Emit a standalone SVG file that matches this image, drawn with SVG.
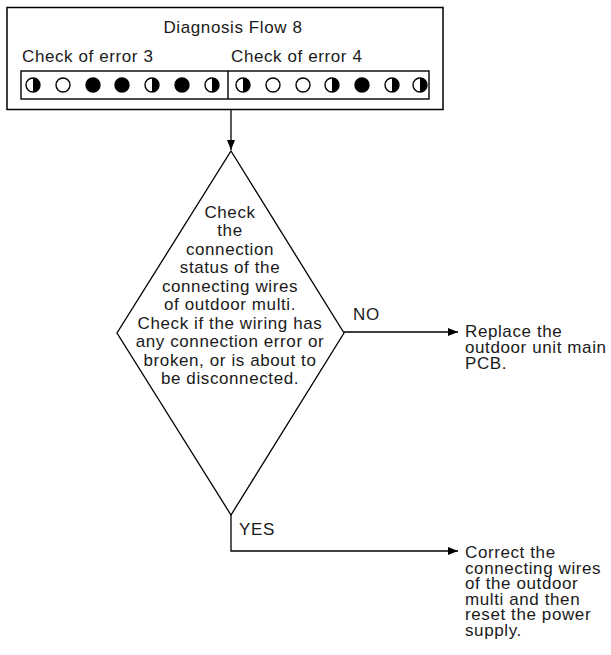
<svg xmlns="http://www.w3.org/2000/svg" width="611" height="655" viewBox="0 0 611 655">
<style>
text{font-family:"Liberation Sans",Arial,sans-serif;font-size:17px;letter-spacing:0.6px;fill:#1a1a1a}
.c{text-anchor:middle}
.ln{fill:none;stroke:#000;stroke-width:1.3}
.led{stroke:#000;stroke-width:1.4}
</style>
<defs>
<marker id="ah" viewBox="0 0 10 8" refX="10" refY="4" markerWidth="10" markerHeight="8" markerUnits="userSpaceOnUse" orient="auto">
<path d="M0,0 L10,4 L0,8 Z" fill="#000"/>
</marker>
<g id="half"><circle r="7" fill="#fff" class="led"/><path d="M0,-7 A7,7 0 0 1 0,7 Z" fill="#000"/></g>
<circle id="off" r="7" fill="#fff" class="led"/>
<circle id="on" r="7" fill="#000" class="led"/>
</defs>
<rect width="611" height="655" fill="#fff"/>
<g id="header">
<rect x="7" y="7.5" width="436" height="102" fill="#fff" stroke="#000" stroke-width="1.5"/>
<text class="c" x="233" y="33">Diagnosis Flow 8</text>
<text x="22" y="62">Check of error 3</text>
<text x="231" y="62">Check of error 4</text>
<rect x="21" y="71" width="408" height="28" fill="none" stroke="#000" stroke-width="1.4"/>
<line x1="228" y1="71" x2="228" y2="99" stroke="#000" stroke-width="1.4"/>
<use href="#half" x="33" y="85"/>
<use href="#off" x="63" y="85"/>
<use href="#on" x="93" y="85"/>
<use href="#on" x="122" y="85"/>
<use href="#half" x="152" y="85"/>
<use href="#on" x="182" y="85"/>
<use href="#half" x="212" y="85"/>
<use href="#half" x="243" y="85"/>
<use href="#off" x="273" y="85"/>
<use href="#off" x="303" y="85"/>
<use href="#half" x="332" y="85"/>
<use href="#on" x="362" y="85"/>
<use href="#half" x="392" y="85"/>
<use href="#half" x="420" y="85"/>
</g>
<g id="decision">
<polygon points="231,151 344,333 231,515 117,333" fill="#fff" stroke="#000" stroke-width="1.3"/>
<text class="c" x="230" y="218">Check</text>
<text class="c" x="230" y="236">the</text>
<text class="c" x="230" y="255">connection</text>
<text class="c" x="230" y="273">status of the</text>
<text class="c" x="230" y="292">connecting wires</text>
<text class="c" x="230" y="310">of outdoor multi.</text>
<text class="c" x="230" y="329">Check if the wiring has</text>
<text class="c" x="230" y="347">any connection error or</text>
<text class="c" x="230" y="366">broken, or is about to</text>
<text class="c" x="230" y="384">be disconnected.</text>
</g>
<g id="replace">
<text x="465" y="337">Replace the</text>
<text x="465" y="353">outdoor unit main</text>
<text x="465" y="369">PCB.</text>
</g>
<g id="correct">
<text x="465" y="558">Correct the</text>
<text x="465" y="573.5">connecting wires</text>
<text x="465" y="589">of the outdoor</text>
<text x="465" y="604.5">multi and then</text>
<text x="465" y="620">reset the power</text>
<text x="465" y="635.5">supply.</text>
</g>
<g id="connectors">
<line class="ln" x1="231" y1="110" x2="231" y2="150" marker-end="url(#ah)"/>
<line class="ln" x1="344" y1="332" x2="458" y2="332" marker-end="url(#ah)"/>
<polyline class="ln" points="231,515 231,551 458,551" marker-end="url(#ah)"/>
<text x="353" y="320">NO</text>
<text x="239" y="535">YES</text>
</g>
</svg>
